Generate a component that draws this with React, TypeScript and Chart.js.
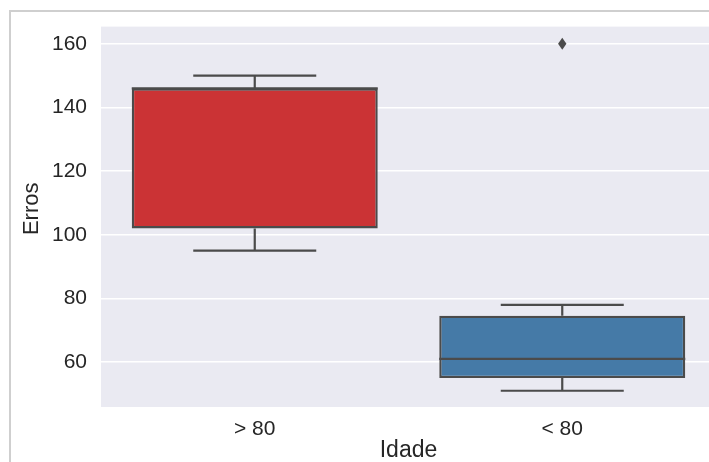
import React, { useEffect, useRef } from "react";
import { Chart, registerables } from "chart.js";

Chart.register(...registerables);

const categories = ["> 80", "< 80"];
const q1 = [102, 55];
const q3 = [146, 74.6];
const medians = [146, 61];
const whiskerLow = [95, 51];
const whiskerHigh = [150, 78];
const outliers: number[][] = [[], [160]];
const yTicks = [60, 80, 100, 120, 140, 160];
const boxColors = ["#CB3335", "#457AA7"];
const xTitle = "Idade";
const yTitle = "Erros";

const EDGE = "#4B4B4B";
const FONT = "'Liberation Sans', Arial, sans-serif";
const TEXT = "#262626";

const boxPlugin = {
  id: "boxExtras",
  beforeDraw(chart: any) {
    const { ctx, chartArea: a } = chart;
    ctx.save();
    ctx.fillStyle = "#EAEAF2";
    ctx.fillRect(a.left, a.top, a.right - a.left, a.bottom - a.top);
    ctx.restore();
  },
  afterDatasetsDraw(chart: any) {
    const { ctx } = chart;
    const xs = chart.scales.x;
    const ys = chart.scales.y;
    const meta = chart.getDatasetMeta(0);
    ctx.save();
    ctx.strokeStyle = EDGE;
    ctx.lineWidth = 2.2;
    categories.forEach((_, i) => {
      const cx = xs.getPixelForValue(i);
      const bw = meta.data[i].width;
      const capHalf = bw / 4;
      const pq1 = ys.getPixelForValue(q1[i]);
      const pq3 = ys.getPixelForValue(q3[i]);
      const plo = ys.getPixelForValue(whiskerLow[i]);
      const phi = ys.getPixelForValue(whiskerHigh[i]);
      const pmed = ys.getPixelForValue(medians[i]);
      ctx.beginPath();
      ctx.moveTo(cx, pq3);
      ctx.lineTo(cx, phi);
      ctx.moveTo(cx - capHalf, phi);
      ctx.lineTo(cx + capHalf, phi);
      ctx.moveTo(cx, pq1);
      ctx.lineTo(cx, plo);
      ctx.moveTo(cx - capHalf, plo);
      ctx.lineTo(cx + capHalf, plo);
      ctx.moveTo(cx - bw / 2, pmed);
      ctx.lineTo(cx + bw / 2, pmed);
      ctx.stroke();
      ctx.fillStyle = EDGE;
      outliers[i].forEach((v) => {
        const py = ys.getPixelForValue(v);
        ctx.beginPath();
        ctx.moveTo(cx, py - 6);
        ctx.lineTo(cx + 4.2, py);
        ctx.lineTo(cx, py + 6);
        ctx.lineTo(cx - 4.2, py);
        ctx.closePath();
        ctx.fill();
      });
    });
    ctx.restore();
  },
  afterDraw(chart: any) {
    const { ctx, chartArea: a } = chart;
    ctx.save();
    ctx.fillStyle = TEXT;
    ctx.font = `22px ${FONT}`;
    ctx.textAlign = "center";
    ctx.textBaseline = "middle";
    ctx.translate(32, (a.top + a.bottom) / 2 - 8);
    ctx.rotate(-Math.PI / 2);
    ctx.fillText(yTitle, 0, 0);
    ctx.restore();
  },
};

export default function App() {
  const ref = useRef<HTMLCanvasElement>(null);
  useEffect(() => {
    if (!ref.current) return;
    const chart = new Chart(ref.current, {
      type: "bar",
      data: {
        labels: categories,
        datasets: [
          {
            data: categories.map((_, i) => [q1[i], q3[i]]) as any,
            backgroundColor: boxColors,
            borderColor: EDGE,
            borderWidth: 2.4,
            borderSkipped: false,
            categoryPercentage: 1,
            barPercentage: 0.8,
          },
        ],
      },
      options: {
        responsive: false,
        animation: false,
        devicePixelRatio: 1,
        layout: { padding: { top: 25, left: 0, right: 0, bottom: 0 } },
        plugins: { legend: { display: false }, tooltip: { enabled: false } },
        scales: {
          x: {
            grid: { display: false },
            border: { display: false },
            ticks: { color: TEXT, font: { family: FONT, size: 21 }, padding: 2 },
            title: {
              display: true,
              text: xTitle,
              color: TEXT,
              font: { family: FONT, size: 23 },
              padding: { top: 0, bottom: -2 },
            },
            afterFit: (s: any) => {
              s.height = 55;
            },
          },
          y: {
            min: 45.9,
            max: 165.4,
            grid: { color: "#FFFFFF", lineWidth: 1.5, drawTicks: false },
            border: { display: false },
            ticks: { color: TEXT, font: { family: FONT, size: 21 }, padding: 14 },
            afterBuildTicks: (s: any) => {
              s.ticks = yTicks.map((v) => ({ value: v }));
            },
            afterFit: (s: any) => {
              s.width = 101;
            },
          },
        },
      },
      plugins: [boxPlugin],
    });
    return () => chart.destroy();
  }, []);
  return (
    <div
      style={{
        position: "fixed",
        left: 0,
        top: 0,
        width: 709,
        height: 462,
        overflow: "hidden",
        background: "#FFFFFF",
      }}
    >
      <canvas
        ref={ref}
        width={716}
        height={462}
        style={{ position: "absolute", left: 0, top: 0, width: 716, height: 462 }}
      />
      <div
        style={{
          position: "absolute",
          left: 9,
          top: 10,
          width: 720,
          height: 470,
          borderLeft: "2px solid #CFCFCF",
          borderTop: "2px solid #CFCFCF",
          pointerEvents: "none",
        }}
      />
    </div>
  );
}
